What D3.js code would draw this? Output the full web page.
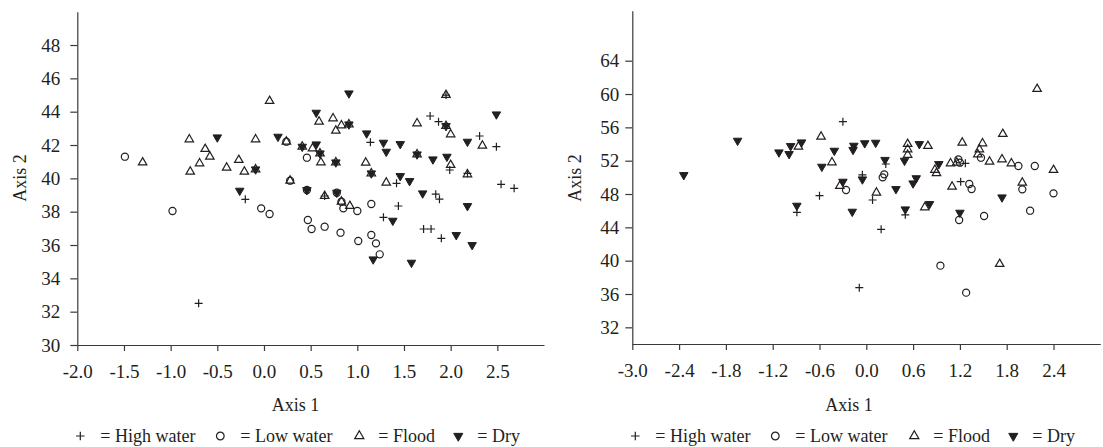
<!DOCTYPE html>
<html>
<head>
<meta charset="utf-8">
<script src="https://cdn.jsdelivr.net/npm/d3@7"></script>
<style>
  body { margin: 0; background: #fff; }
  svg { display: block; }
  .axis path, .axis line { stroke: #3a3a3a; stroke-width: 1.2; }
  .axis text { font-family: "Liberation Serif", "Times New Roman", serif; font-size: 19px; fill: #231f20; }
  .title, .legend text { font-family: "Liberation Serif", "Times New Roman", serif; font-size: 18px; fill: #231f20; }
</style>
</head>
<body>
<div id="chart"></div>
<script>
// ---- data: [axis1, axis2] ----
const leftHigh = [
  [-0.20, 38.74], [-0.70, 32.5], [1.14, 42.16], [1.78, 43.74], [1.87, 43.4],
  [2.31, 42.54], [2.49, 41.9], [1.99, 40.5], [2.54, 39.64], [2.68, 39.4],
  [1.42, 39.7], [1.84, 39.05], [1.88, 38.75], [1.44, 38.34], [1.28, 37.66],
  [1.71, 36.96], [1.79, 36.96], [1.90, 36.4], [2.18, 40.3], [1.95, 45.0], [0.65, 38.94],
];
const leftLow = [
  [-1.49, 41.3], [-0.98, 38.04], [-0.03, 38.2], [0.06, 37.86], [0.24, 42.2],
  [0.46, 41.24], [0.28, 39.86], [0.46, 39.3], [0.78, 39.14], [0.83, 38.6],
  [0.85, 38.2], [1.00, 38.04], [1.15, 38.46], [0.47, 37.5], [0.51, 36.96],
  [0.65, 37.1], [0.82, 36.74], [1.01, 36.24], [1.15, 36.6], [1.20, 36.1], [1.24, 35.44],
];
const leftFlood = [
  [-1.30, 40.95], [-0.80, 42.34], [-0.79, 40.4], [-0.69, 40.9], [-0.63, 41.76],
  [-0.58, 41.3], [-0.40, 40.64], [-0.27, 41.1], [-0.21, 40.4], [-0.09, 42.34],
  [-0.09, 40.54], [0.06, 44.64], [0.59, 43.4], [0.74, 43.6], [0.83, 43.18],
  [0.91, 43.24], [0.77, 42.86], [1.64, 43.3], [1.95, 43.14], [2.00, 42.64],
  [2.34, 41.96], [0.24, 42.2], [0.41, 41.9], [0.52, 41.8], [0.60, 41.5],
  [0.61, 40.96], [0.77, 40.96], [1.09, 40.94], [1.15, 40.3], [1.64, 41.44],
  [2.00, 40.8], [2.18, 40.24], [1.95, 45.0], [0.28, 39.86], [0.65, 38.94],
  [0.83, 38.6], [0.92, 38.34], [1.31, 39.74],
];
const leftDry = [
  [-0.50, 42.46], [-0.09, 40.54], [0.15, 42.5], [-0.26, 39.26], [0.91, 45.1],
  [0.56, 43.94], [0.91, 43.24], [1.10, 42.7], [1.28, 42.14], [1.31, 41.6],
  [1.46, 42.06], [1.95, 43.14], [2.49, 43.84], [2.18, 42.2], [0.41, 41.9],
  [0.56, 42.04], [0.60, 41.5], [0.77, 40.96], [1.15, 40.3], [1.64, 41.44],
  [1.81, 41.14], [1.96, 41.3], [0.46, 39.3], [0.78, 39.14], [1.46, 40.14],
  [1.56, 39.84], [1.70, 39.1], [2.18, 38.34], [1.17, 35.14], [1.38, 37.46],
  [2.06, 36.6], [2.23, 36.0], [1.58, 34.94],
];

const rightHigh = [
  [-0.30, 56.68], [-0.60, 47.8], [-0.89, 45.8], [-0.05, 50.3], [0.25, 51.6],
  [0.08, 47.28], [0.19, 43.76], [0.50, 45.5], [1.27, 51.68], [1.21, 49.48], [-0.09, 36.76],
];
const rightLow = [
  [0.23, 50.36], [0.21, 50.0], [-0.26, 48.48], [1.18, 52.16], [1.20, 51.76],
  [1.32, 49.2], [1.35, 48.6], [1.19, 44.88], [1.51, 45.36], [1.47, 52.36],
  [1.95, 51.36], [2.16, 51.36], [2.40, 48.08], [2.00, 48.56], [2.10, 46.0],
  [0.95, 39.4], [1.28, 36.16],
];
const rightFlood = [
  [-0.87, 53.68], [-0.58, 54.88], [-0.44, 51.8], [-0.34, 48.96], [0.13, 48.16],
  [0.75, 46.4], [0.88, 50.9], [0.90, 50.5], [0.53, 54.0], [0.53, 53.36],
  [0.53, 52.7], [0.79, 53.76], [1.08, 51.68], [1.16, 51.76], [1.10, 48.88],
  [1.23, 54.16], [1.49, 54.08], [1.45, 53.36], [1.43, 52.76], [1.58, 51.88],
  [1.75, 55.2], [1.74, 52.16], [1.86, 51.68], [2.40, 50.88], [2.00, 49.36],
  [1.71, 39.6], [2.19, 60.6],
];
const rightDry = [
  [-2.34, 50.28], [-1.65, 54.4], [-1.12, 53.0], [-0.99, 52.8], [-0.97, 53.76],
  [-0.83, 54.2], [-0.57, 51.28], [-0.41, 53.2], [-0.89, 46.6], [-0.17, 53.3],
  [-0.16, 53.8], [-0.02, 54.1], [0.12, 54.16], [0.24, 52.1], [0.49, 52.0],
  [-0.05, 49.76], [-0.30, 49.48], [0.38, 48.6], [0.60, 49.28], [0.64, 49.9],
  [-0.18, 45.88], [0.50, 46.16], [0.81, 46.8], [0.93, 51.6], [0.68, 54.0],
  [1.20, 45.76], [1.74, 47.6],
];

const leftXTicks = [-2.0, -1.5, -1.0, -0.5, 0.0, 0.5, 1.0, 1.5, 2.0, 2.5];
const leftYTicks = [30, 32, 34, 36, 38, 40, 42, 44, 46, 48];
const rightXTicks = [-3.0, -2.4, -1.8, -1.2, -0.6, 0.0, 0.6, 1.2, 1.8, 2.4];
const rightYTicks = [32, 36, 40, 44, 48, 52, 56, 60, 64];

const legendLabels = ['= High water', '= Low water', '= Flood', '= Dry'];

// ---- marker shapes ----
const ink = '#231f20';
const plusType = {
  draw(ctx, size) {
    const r = Math.sqrt(size) / 2;
    ctx.moveTo(-r, 0); ctx.lineTo(r, 0);
    ctx.moveTo(0, -r); ctx.lineTo(0, r);
  },
};
const triUpType = {
  draw(ctx, size) {
    const s = Math.sqrt(size), h = s * Math.sqrt(3) / 2;
    ctx.moveTo(0, -h * 2 / 3); ctx.lineTo(s / 2, h / 3); ctx.lineTo(-s / 2, h / 3); ctx.closePath();
  },
};
const triDownType = {
  draw(ctx, size) {
    const s = Math.sqrt(size), h = s * Math.sqrt(3) / 2;
    ctx.moveTo(0, h * 2 / 3); ctx.lineTo(s / 2, -h / 3); ctx.lineTo(-s / 2, -h / 3); ctx.closePath();
  },
};

const markerStyles = {
  high: { type: plusType, size: 64, fill: 'none', stroke: ink, width: 1.2 },
  low: { type: d3.symbolCircle, size: 40, fill: 'none', stroke: ink, width: 1.2 },
  flood: { type: triUpType, size: 72, fill: 'none', stroke: ink, width: 1.2 },
  dry: { type: triDownType, size: 72, fill: ink, stroke: ink, width: 1 },
};

const svg = d3.select('#chart').append('svg')
  .attr('width', 1103)
  .attr('height', 447);

/**
 * One ordination panel: axes, titles, points and the legend row below
 */
function drawPanel(cfg) {
  const x = d3.scaleLinear().domain(cfg.xDomain).range(cfg.xRange);
  const y = d3.scaleLinear().domain(cfg.yDomain).range(cfg.yRange);
  const g = svg.append('g');

  const xAxis = d3.axisBottom(x)
    .tickValues(cfg.xTicks)
    .tickFormat((d) => d.toFixed(1))
    .tickSizeInner(6)
    .tickSizeOuter(0)
    .tickPadding(14);
  const yAxis = d3.axisLeft(y)
    .tickValues(cfg.yTicks)
    .tickSizeInner(7)
    .tickSizeOuter(0)
    .tickPadding(cfg.yPad);

  g.append('g')
    .attr('class', 'axis')
    .attr('transform', `translate(0,${cfg.yRange[0]})`)
    .call(xAxis);
  g.append('g')
    .attr('class', 'axis')
    .attr('transform', `translate(${cfg.xRange[0]},0)`)
    .call(yAxis);

  // Axis titles
  g.append('text')
    .attr('class', 'title')
    .attr('x', cfg.xTitle[0])
    .attr('y', cfg.xTitle[1])
    .attr('text-anchor', 'middle')
    .text('Axis 1');
  g.append('text')
    .attr('class', 'title')
    .attr('transform', `translate(${cfg.yTitle[0]},${cfg.yTitle[1]}) rotate(-90)`)
    .attr('text-anchor', 'middle')
    .attr('dy', '0.35em')
    .text('Axis 2');

  // Points, dry drawn last so it sits on top
  const series = [
    ['flood', cfg.flood], ['low', cfg.low], ['high', cfg.high], ['dry', cfg.dry],
  ];
  for (const [key, pts] of series) {
    const st = markerStyles[key];
    g.append('g').selectAll('path')
      .data(pts)
      .join('path')
      .attr('transform', (d) => `translate(${x(d[0])},${y(d[1])})`)
      .attr('d', d3.symbol(st.type, st.size))
      .attr('fill', st.fill)
      .attr('stroke', st.stroke)
      .attr('stroke-width', st.width);
  }

  // Legend row
  const keys = ['high', 'low', 'flood', 'dry'];
  const offsets = [[3, 23], [143, 163], [282, 301], [381, 400]];
  const leg = g.append('g').attr('class', 'legend');
  keys.forEach((key, i) => {
    const st = markerStyles[key];
    const x0 = cfg.xRange[0];
    leg.append('path')
      .attr('transform', `translate(${x0 + offsets[i][0]},${cfg.legendY - 6})`)
      .attr('d', d3.symbol(st.type, st.size * 1.15))
      .attr('fill', st.fill)
      .attr('stroke', st.stroke)
      .attr('stroke-width', st.width);
    leg.append('text')
      .attr('x', x0 + offsets[i][1])
      .attr('y', cfg.legendY)
      .text(legendLabels[i]);
  });
}

drawPanel({
  xDomain: [-2, 3], xRange: [77.3, 544],
  yDomain: [30, 50], yRange: [345, 11.7],
  xTicks: leftXTicks, yTicks: leftYTicks, yPad: 10,
  xTitle: [295.5, 411], yTitle: [20, 178],
  legendY: 442,
  high: leftHigh, low: leftLow, flood: leftFlood, dry: leftDry,
});

drawPanel({
  xDomain: [-3, 3], xRange: [632.3, 1100.3],
  yDomain: [30, 70], yRange: [344, 10.7],
  xTicks: rightXTicks, yTicks: rightYTicks, yPad: 6,
  xTitle: [849, 411], yTitle: [575, 178],
  legendY: 442,
  high: rightHigh, low: rightLow, flood: rightFlood, dry: rightDry,
});
</script>
</body>
</html>
